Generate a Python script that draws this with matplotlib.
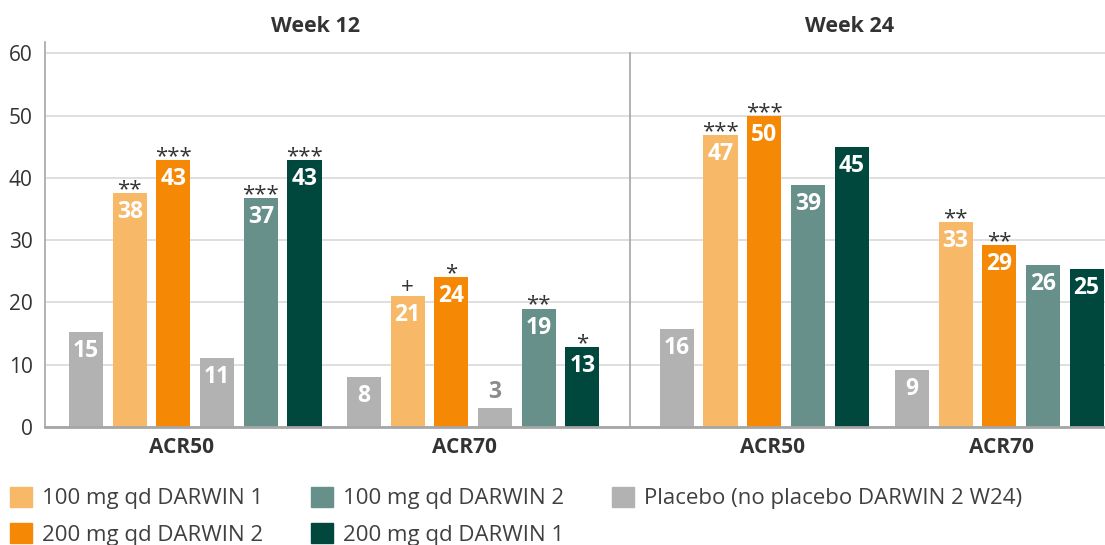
import matplotlib.pyplot as plt
from matplotlib.patches import Patch
from matplotlib.transforms import blended_transform_factory

plt.rcParams['font.family'] = ['Open Sans', 'DejaVu Sans']

# series order inside each week block (colour tells the arm)
week12_series = ["Placebo", "100 mg qd DARWIN 1", "200 mg qd DARWIN 2",
                 "Placebo", "100 mg qd DARWIN 2", "200 mg qd DARWIN 1"]
week24_series = ["Placebo", "100 mg qd DARWIN 1", "200 mg qd DARWIN 2",
                 "100 mg qd DARWIN 2", "200 mg qd DARWIN 1"]

w12_acr50 = [15.2, 37.6, 42.9, 11.0, 36.7, 42.9]
w12_acr70 = [8.1, 21.1, 24.0, 3.0, 19.0, 12.8]
w24_acr50 = [15.8, 46.8, 49.9, 38.9, 44.9]
w24_acr70 = [9.1, 32.9, 29.2, 26.0, 25.3]

w12_acr50_lbl = [15, 38, 43, 11, 37, 43]
w12_acr70_lbl = [8, 21, 24, 3, 19, 13]
w24_acr50_lbl = [16, 47, 50, 39, 45]
w24_acr70_lbl = [9, 33, 29, 26, 25]

w12_acr50_sig = ["", "**", "***", "", "***", "***"]
w12_acr70_sig = ["", "+", "*", "", "**", "*"]
w24_acr50_sig = ["", "***", "***", "", ""]
w24_acr70_sig = ["", "**", "**", "", ""]

categories = ["ACR50", "ACR70", "ACR50", "ACR70"]
weeks = ["Week 12", "Week 24"]

legend_order = ["100 mg qd DARWIN 1", "200 mg qd DARWIN 2",
                "100 mg qd DARWIN 2", "200 mg qd DARWIN 1", "Placebo"]
legend_text = {"Placebo": "Placebo (no placebo DARWIN 2 W24)"}

colors = {
    "Placebo": "#B2B2B2",
    "100 mg qd DARWIN 1": "#F7B868",
    "200 mg qd DARWIN 2": "#F58905",
    "100 mg qd DARWIN 2": "#68908A",
    "200 mg qd DARWIN 1": "#00483E",
}
text_col = "#333333"

fig = plt.figure(figsize=(11.05, 5.45), dpi=100)
ax = fig.add_axes([45 / 1105, 118 / 545, 1060 / 1105, 385 / 545])

groups = [
    (week12_series, w12_acr50, w12_acr50_lbl, w12_acr50_sig),
    (week12_series, w12_acr70, w12_acr70_lbl, w12_acr70_sig),
    (week24_series, w24_acr50, w24_acr50_lbl, w24_acr50_sig),
    (week24_series, w24_acr70, w24_acr70_lbl, w24_acr70_sig),
]
group_start = [0.94, 7.30, 14.46, 19.84]
cat_pos = [3.13, 9.59, 16.66, 21.90]
week_pos = [6.20, 18.42]
divider = 13.39

for start, (series, vals, lbls, sigs) in zip(group_start, groups):
    xs = [start + i for i in range(len(vals))]
    ax.bar(xs, vals, width=0.78, color=[colors[s] for s in series], zorder=3)
    for x, v, lb, sg in zip(xs, vals, lbls, sigs):
        if v > 6:
            ax.annotate(str(lb), (x, v), xytext=(0, -19), textcoords='offset pixels',
                        ha='center', va='center', color='white', fontsize=16.5,
                        fontweight='bold', zorder=4)
        else:
            ax.annotate(str(lb), (x, v), xytext=(0, 16), textcoords='offset pixels',
                        ha='center', va='center', color='#8C8C8C', fontsize=16.5,
                        fontweight='bold', zorder=4)
        if sg:
            off = 3 if sg == "+" else -2
            ax.annotate(sg, (x, v), xytext=(0, off), textcoords='offset pixels',
                        ha='center', va='baseline', color=text_col, fontsize=16, zorder=4)

ax.set_xlim(0, 24.26)
ax.set_ylim(0, 61.8)
ax.set_yticks(range(0, 61, 10))
ax.set_xticks(cat_pos, categories)
for t in ax.get_xticklabels():
    t.set_fontweight('bold')
ax.tick_params(axis='x', length=0, pad=7, labelsize=15, labelcolor=text_col)
ax.tick_params(axis='y', length=0, pad=9, labelsize=15, labelcolor=text_col)

ax.grid(axis='y', color='#D9D9D9', linewidth=1.2, zorder=0)
ax.axvline(divider, ymin=0, ymax=60 / 61.8, color='#A6A6A6', linewidth=1.2, zorder=2)
for s in ['top', 'right']:
    ax.spines[s].set_visible(False)
ax.spines['left'].set_color('#A6A6A6')
ax.spines['left'].set_linewidth(1.2)
ax.spines['bottom'].set_color('#A6A6A6')
ax.spines['bottom'].set_linewidth(2)
ax.spines['bottom'].set_zorder(5)

title_tr = blended_transform_factory(ax.transData, fig.transFigure)
for wp, wk in zip(week_pos, weeks):
    ax.text(wp, 1 - 26 / 545, wk, transform=title_tr, ha='center', va='center',
            fontsize=15.5, fontweight='bold', color=text_col)

handles = [Patch(color=colors[s]) for s in legend_order]
labels = [legend_text.get(s, s) for s in legend_order]
fig.legend(handles, labels, ncol=3, loc='upper left', bbox_to_anchor=(10 / 1105, 1 - 487 / 545),
           frameon=False, fontsize=16, handlelength=0.99, handleheight=0.99,
           handletextpad=0.45, columnspacing=2.15, labelspacing=0.62, borderpad=0,
           borderaxespad=0, labelcolor='#404040')

fig.savefig('out.png', dpi=100)
